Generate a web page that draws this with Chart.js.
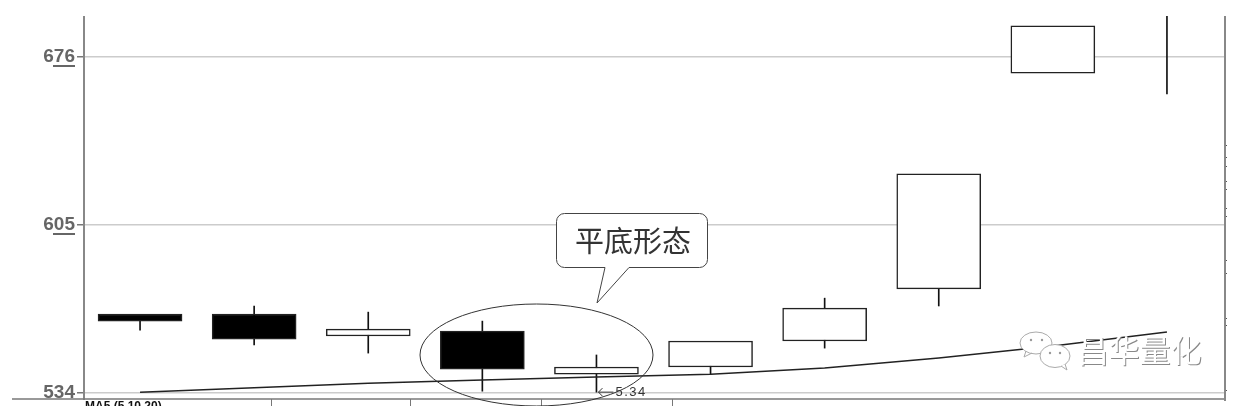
<!DOCTYPE html>
<html lang="zh-CN">
<head>
    <meta charset="UTF-8">
    <title>平底形态</title>
    <script src="https://cdn.jsdelivr.net/npm/chart.js@4"></script>
    <style>
        html, body { margin: 0; padding: 0; background: #fff; overflow: hidden; }
        canvas { display: block; }
    </style>
</head>
<body>
    <canvas id="chart" width="1241" height="406"></canvas>
    <script>
        // values
        const categories = ['1', '2', '3', '4', '5', '6', '7', '8', '9', '10'];
        const openValues = [567.4, 567.4, 558.1, 560.2, 542.0, 545.0, 556.0, 578.0, 669.2, null];
        const closeValues = [564.4, 556.8, 561.0, 544.1, 545.0, 556.0, 569.9, 626.6, 689.1, null];
        const highValues = [567.4, 570.8, 568.2, 564.4, 550.1, 556.0, 574.1, 626.6, 689.1, 693.3];
        const lowValues = [560.6, 554.3, 550.9, 534.8, 534.4, 542.0, 553.0, 570.8, 669.2, 660.4];
        const maValues = [534.4, 536.3, 538.2, 539.5, 540.8, 542.0, 544.6, 548.8, 553.9, 559.8];
        const yTicks = [534, 605, 676];
        const underlinedTicks = [605, 676];
        const rightTicks = [638.8, 633.7, 629.9, 623.2, 619.8, 611.8, 608.4, 590.2, 584.7, 565.7, 562.7, 535.3];
        const lowLabel = '5.34';
        const lowLabelIndex = 4;

        const yMin = 531.5;
        const yMax = 693.3;

        // a wick that stops at the body stays hidden behind it
        function wickRange(i) {
            if (openValues[i] === null) return [lowValues[i], highValues[i]];
            const top = Math.max(openValues[i], closeValues[i]);
            const bottom = Math.min(openValues[i], closeValues[i]);
            const mid = (top + bottom) / 2;
            return [lowValues[i] < bottom ? lowValues[i] : mid, highValues[i] > top ? highValues[i] : mid];
        }

        // everything the library has no element for: axis extras and the hand drawn notes
        const notesPlugin = {
            id: 'notes',
            afterDraw(chart) {
                const ctx = chart.ctx;
                const y = chart.scales.y;
                const x = chart.scales.x;
                const area = chart.chartArea;
                const bottom = area.bottom;
                ctx.save();

                // side axis lines
                ctx.strokeStyle = '#888';
                ctx.lineWidth = 2;
                ctx.beginPath();
                ctx.moveTo(area.left + 1, area.top);
                ctx.lineTo(area.left + 1, bottom + 1);
                ctx.moveTo(area.right + 1, area.top);
                ctx.lineTo(area.right + 1, bottom + 2);
                ctx.stroke();

                // underlined tick labels
                ctx.strokeStyle = '#666';
                ctx.lineWidth = 2;
                underlinedTicks.forEach(v => {
                    const py = Math.round(y.getPixelForValue(v)) + 9;
                    ctx.beginPath();
                    ctx.moveTo(53, py);
                    ctx.lineTo(75, py);
                    ctx.stroke();
                });

                // bottom axis line
                ctx.strokeStyle = '#777';
                ctx.lineWidth = 1.5;
                ctx.beginPath();
                ctx.moveTo(12, bottom);
                ctx.lineTo(area.right, bottom);
                ctx.stroke();
                ctx.lineWidth = 1;
                [271, 410, 541, 672].forEach(px => {
                    ctx.beginPath();
                    ctx.moveTo(px + 0.5, bottom);
                    ctx.lineTo(px + 0.5, 406);
                    ctx.stroke();
                });

                // indicator caption, cut off by the window edge
                ctx.fillStyle = '#111';
                ctx.font = 'bold 12px "Liberation Sans"';
                ctx.textAlign = 'left';
                ctx.textBaseline = 'alphabetic';
                ctx.fillText('MA5 (5,10,20)', 85, 410);

                // low value note
                const lowX = x.getPixelForValue(lowLabelIndex);
                const lowY = y.getPixelForValue(lowValues[lowLabelIndex]);
                ctx.strokeStyle = '#333';
                ctx.lineWidth = 1;
                ctx.beginPath();
                ctx.moveTo(lowX + 17, lowY);
                ctx.lineTo(lowX + 2, lowY);
                ctx.moveTo(lowX + 6, lowY - 4);
                ctx.lineTo(lowX + 2, lowY);
                ctx.lineTo(lowX + 6, lowY + 4);
                ctx.stroke();
                ctx.fillStyle = '#333';
                ctx.font = '13px "Liberation Sans"';
                ctx.letterSpacing = '1.5px';
                ctx.textBaseline = 'middle';
                ctx.fillText(lowLabel, lowX + 19, lowY);
                ctx.letterSpacing = '0px';

                // ellipse round the two candles
                ctx.strokeStyle = '#333';
                ctx.beginPath();
                ctx.ellipse(536.5, 355, 116.5, 51, 0, 0, Math.PI * 2);
                ctx.stroke();

                // callout
                ctx.fillStyle = '#fff';
                ctx.strokeStyle = '#444';
                ctx.beginPath();
                ctx.moveTo(564.5, 213.5);
                ctx.arcTo(707.5, 213.5, 707.5, 267.5, 8);
                ctx.arcTo(707.5, 267.5, 556.5, 267.5, 8);
                ctx.lineTo(629, 267.5);
                ctx.lineTo(597, 303);
                ctx.lineTo(605, 267.5);
                ctx.arcTo(556.5, 267.5, 556.5, 213.5, 8);
                ctx.arcTo(556.5, 213.5, 707.5, 213.5, 8);
                ctx.closePath();
                ctx.fill();
                ctx.stroke();
                ctx.fillStyle = '#333';
                ctx.font = '29px "Noto Sans CJK SC"';
                ctx.textAlign = 'center';
                ctx.textBaseline = 'middle';
                ctx.fillText('平底形态', 633, 241);

                // watermark
                ctx.strokeStyle = '#aaa';
                ctx.fillStyle = '#fff';
                ctx.beginPath();
                ctx.ellipse(1036, 343, 16, 11, 0, 0, Math.PI * 2);
                ctx.moveTo(1026, 351);
                ctx.lineTo(1024, 357);
                ctx.lineTo(1032, 353);
                ctx.fill();
                ctx.stroke();
                ctx.beginPath();
                ctx.ellipse(1055, 356, 15, 11.5, 0, 0, Math.PI * 2);
                ctx.fill();
                ctx.stroke();
                ctx.beginPath();
                ctx.moveTo(1061, 366);
                ctx.lineTo(1067, 370);
                ctx.lineTo(1065, 364);
                ctx.fill();
                ctx.stroke();
                ctx.fillStyle = '#999';
                [[1031, 340], [1042, 340], [1050, 353], [1060, 353]].forEach(p => {
                    ctx.beginPath();
                    ctx.arc(p[0], p[1], 1.2, 0, Math.PI * 2);
                    ctx.fill();
                });
                ctx.font = '31px "Noto Sans CJK SC"';
                ctx.textAlign = 'left';
                ctx.fillStyle = '#888';
                ctx.fillText('昌华量化', 1078.5, 351.5);
                ctx.fillStyle = '#fff';
                ctx.fillText('昌华量化', 1077.5, 350.5);

                ctx.restore();
            }
        };

        const chart = new Chart(document.getElementById('chart').getContext('2d'), {
            data: {
                labels: categories,
                datasets: [
                    {
                        type: 'line',
                        data: maValues,
                        borderColor: '#222',
                        borderWidth: 1.5,
                        pointRadius: 0,
                        tension: 0,
                        fill: false,
                        order: 0
                    },
                    {
                        type: 'bar',
                        data: openValues.map((v, i) => v === null ? null : [v, closeValues[i]]),
                        backgroundColor: openValues.map((v, i) => closeValues[i] < v ? '#000' : '#fff'),
                        borderColor: '#222',
                        borderWidth: 1.5,
                        borderSkipped: false,
                        barThickness: 84,
                        grouped: false,
                        order: 1
                    },
                    {
                        type: 'bar',
                        data: highValues.map((v, i) => wickRange(i)),
                        backgroundColor: '#111',
                        borderWidth: 0,
                        barThickness: 1,
                        grouped: false,
                        order: 2
                    }
                ]
            },
            options: {
                responsive: false,
                devicePixelRatio: 1,
                animation: false,
                layout: { padding: { top: 16, bottom: 7, left: 0, right: 0 } },
                plugins: { legend: { display: false }, tooltip: { enabled: false } },
                scales: {
                    x: { type: 'category', display: false },
                    y: {
                        position: 'left',
                        min: yMin,
                        max: yMax,
                        afterBuildTicks(scale) { scale.ticks = yTicks.map(v => ({ value: v })); },
                        afterFit(scale) {
                            scale.width = 83;
                            scale.paddingTop = 0;
                            scale.paddingBottom = 0;
                        },
                        border: { display: false },
                        grid: { color: '#ccc', lineWidth: 1.5, tickColor: '#777', tickLength: 6 },
                        ticks: {
                            color: '#666',
                            padding: 2,
                            font: { family: 'Liberation Sans', weight: 'bold', size: 19 },
                            callback: v => String(v)
                        }
                    },
                    yRight: {
                        position: 'right',
                        min: yMin,
                        max: yMax,
                        afterBuildTicks(scale) { scale.ticks = rightTicks.map(v => ({ value: v })); },
                        afterFit(scale) { scale.width = 17; },
                        border: { display: false },
                        grid: { drawOnChartArea: false, color: '#555', tickLength: 3 },
                        ticks: { display: false }
                    }
                }
            },
            plugins: [notesPlugin]
        });
    </script>
</body>
</html>
